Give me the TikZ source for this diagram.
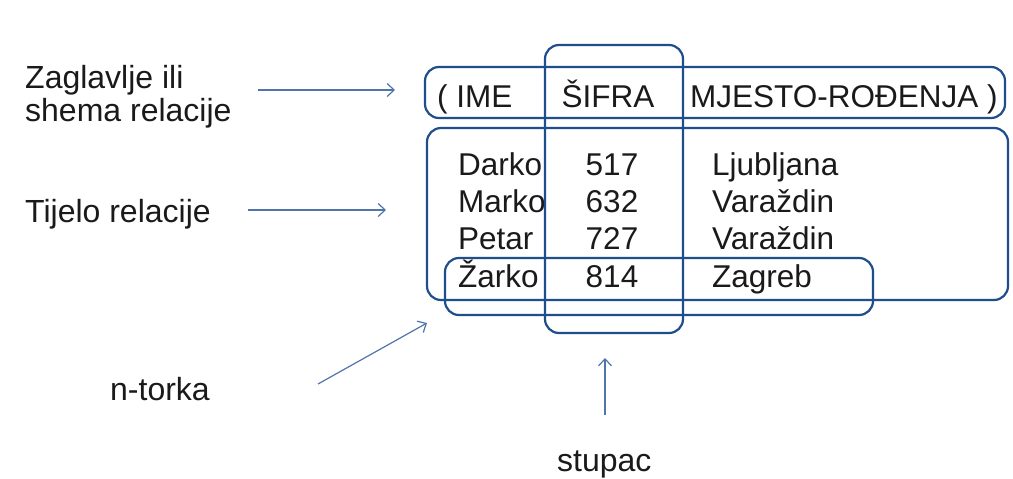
\documentclass[tikz,border=0pt]{standalone}
\usepackage{fontspec}
\setmainfont{Liberation Sans}
\usetikzlibrary{arrows.meta}

\definecolor{boxblue}{HTML}{1F4E8C}
\definecolor{arrowblue}{HTML}{4F75AA}
\definecolor{ink}{HTML}{1A1A1A}

\begin{document}
\begin{tikzpicture}[
        x=1pt, y=-1pt,
        lbl/.style={anchor=base west, inner sep=0pt, text=ink,
          font=\fontsize{32}{36}\selectfont},
        cell/.style={anchor=base west, inner sep=0pt, text=ink,
          font=\fontsize{31.5}{36}\selectfont},
        num/.style={cell, anchor=base},
        frame/.style={draw=boxblue, line width=2.2pt, rounded corners=14pt},
        pointer/.style={draw=arrowblue, line width=1.2pt,
          -{Straight Barb[length=7pt,width=13pt]}}]
        % okvir slike
        \useasboundingbox[fill=white] (0,0) rectangle (1013,479);
        % oznake lijevo
        \node[lbl] (zag) at (25,88) {Zaglavlje ili};
        \node[lbl] (shema) at (25,121) {shema relacije};
        \node[lbl] (tijelo) at (25,222) {Tijelo relacije};
        \node[lbl] (ntorka) at (110,400) {n-torka};
        \node[lbl] (stupac) at (557,471) {stupac};
        % zaglavlje relacije
        \node[cell] (ime) at (437,107) {( IME};
        \node[num] (sifra) at (608,107) {ŠIFRA};
        \node[cell] (mjesto) at (690,107) {MJESTO-ROĐENJA )};
        % tijelo relacije
        \foreach \ime/\br/\grad/\y/\k in {Darko/517/Ljubljana/175/1,
            Marko/632/Varaždin/212/2, Petar/727/Varaždin/249/3,
            Žarko/814/Zagreb/287/4} {
          \node[cell] (ime\k) at (458,\y) {\ime};
          \node[num] (br\k) at (612,\y) {\br};
          \node[cell] (grad\k) at (712,\y) {\grad};
        }
        % okviri
        \draw[frame] (425,67) rectangle (1005,118);
        \draw[frame] (427,128) rectangle (1008,300);
        \draw[frame] (445,258) rectangle (873,315);
        \draw[frame] (545,45) rectangle (683,333);
        % krajevi strelica
        \coordinate (zagA) at (258,90);   \coordinate (zagB) at (395,90);
        \coordinate (tijA) at (248,210);  \coordinate (tijB) at (386,210);
        \coordinate (ntA) at (318,384);   \coordinate (ntB) at (427,323);
        \coordinate (stA) at (605,415);   \coordinate (stB) at (605,358);
        % strelice
        \draw[pointer] (zagA) -- (zagB);
        \draw[pointer] (tijA) -- (tijB);
        \draw[pointer] (ntA) -- (ntB);
        \draw[pointer] (stA) -- (stB);
\end{tikzpicture}
\end{document}
